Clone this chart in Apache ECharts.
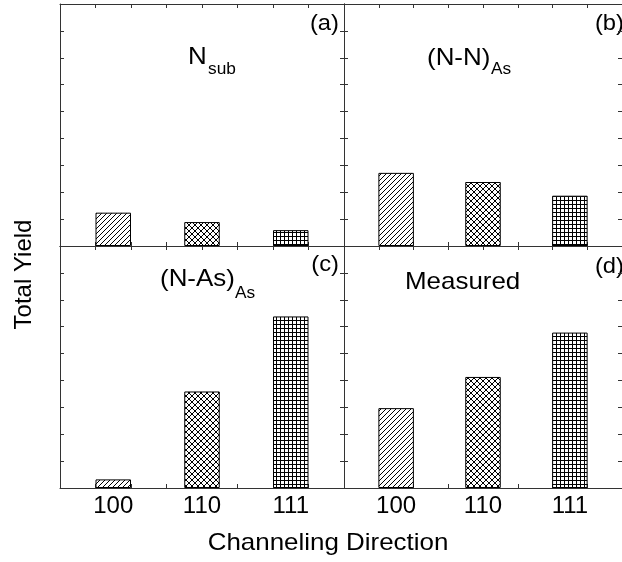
<!DOCTYPE html>
<html>
<head>
<meta charset="utf-8">
<script src="https://cdn.jsdelivr.net/npm/echarts@6/dist/echarts.min.js"></script>
<style>
  html, body { margin: 0; padding: 0; background: #fff; }
  #chart { width: 622px; height: 562px; }
</style>
</head>
<body>
<div id="chart"></div>
<script>
// Channeling directions and where each one sits on the 0–8 channel axis
const directions = ['100', '110', '111'];
const directionSlots = [1.5, 4, 6.5];

// Total yield per direction (arbitrary units)
const yieldNsub = [1.24, 0.89, 0.59];
const yieldNN = [2.72, 2.38, 1.87];
const yieldNAs = [0.32, 3.59, 6.38];
const yieldMeasured = [2.97, 4.13, 5.78];

const FONT = "'Liberation Sans', Arial, Helvetica, sans-serif";
const LINE = '#333';

// Small repeating tiles for the hatch fills: "/", "x" and "+"
function hatchTile(kind) {
  const s = kind === 'grid' ? 4 : (kind === 'cross' ? 6 : 5);
  const c = document.createElement('canvas');
  c.width = s; c.height = s;
  const g = c.getContext('2d');
  g.fillStyle = '#fff';
  g.fillRect(0, 0, s, s);
  g.fillStyle = '#000';
  for (let i = 0; i < s; i++) {
    if (kind === 'diag' || kind === 'cross') g.fillRect(i, s - 1 - i, 1, 1);
    if (kind === 'cross') g.fillRect(i, i, 1, 1);
    if (kind === 'grid') { g.fillRect(i, 0, 1, 1); g.fillRect(0, i, 1, 1); }
  }
  return { image: c, repeat: 'repeat' };
}
const fills = [hatchTile('diag'), hatchTile('cross'), hatchTile('grid')];

const panels = [
  { values: yieldNsub,     left: 60,  top: 4 },
  { values: yieldNN,       left: 344, top: 4 },
  { values: yieldNAs,      left: 60,  top: 246 },
  { values: yieldMeasured, left: 344, top: 246 }
];

const grid = [], xAxis = [], yAxis = [], series = [];
panels.forEach((p, i) => {
  grid.push({ left: p.left, top: p.top, width: 284, height: 242 });
  const bottomRow = i >= 2;
  const tick = { show: true, inside: true, length: 4, lineStyle: { color: LINE, width: 1 } };
  const axLine = { show: true, onZero: false, lineStyle: { color: LINE, width: 1 } };
  ['bottom', 'top'].forEach(pos => {
    xAxis.push({
      gridIndex: i, type: 'value', min: 0, max: 8, interval: 1, position: pos,
      axisLine: axLine, axisTick: tick, splitLine: { show: false },
      axisLabel: (bottomRow && pos === 'bottom') ? {
        show: true,
        customValues: directionSlots,
        formatter: v => directions[directionSlots.indexOf(v)],
        fontSize: 24, fontFamily: FONT, color: '#000', margin: 6
      } : { show: false }
    });
  });
  ['left', 'right'].forEach(pos => {
    yAxis.push({
      gridIndex: i, type: 'value', min: 0, max: 9, interval: 1, position: pos,
      axisLine: axLine, axisTick: tick, splitLine: { show: false },
      axisLabel: { show: false }
    });
  });
  series.push({
    type: 'bar',
    xAxisIndex: 2 * i, yAxisIndex: 2 * i,
    barWidth: 35.5,
    silent: true,
    data: p.values.map((v, k) => ({
      value: [directionSlots[k], v],
      itemStyle: { color: fills[k], borderColor: '#000', borderWidth: 1 }
    }))
  });
});

// Text helpers for the panel annotations
function txt(text, x, y, size, align, extra) {
  return Object.assign({
    type: 'text', x: x, y: y, scaleX: 1.08, silent: true,
    style: {
      text: text, fontSize: size, fontFamily: FONT, fill: '#000',
      textAlign: align || 'left', textVerticalAlign: 'middle'
    }
  }, extra || {});
}

const graphic = [
  txt('(a)', 339, 24.4, 22, 'right'),
  txt('(b)', 624, 24.4, 22, 'right'),
  txt('(c)', 339, 265.4, 22, 'right'),
  txt('(d)', 624, 267.4, 22, 'right'),
  txt('N', 188, 57.4, 24),
  txt('sub', 208, 69.3, 16),
  txt('(N-N)', 427, 58.4, 24),
  txt('As', 491, 69.3, 16),
  txt('(N-As)', 160, 279.4, 24),
  txt('As', 235, 293.3, 16),
  txt('Measured', 405, 282.1, 24),
  txt('Channeling Direction', 328, 543.5, 24, 'center'),
  txt('Total Yield', 24, 274.5, 24, 'center', { rotation: Math.PI / 2, scaleX: 1 })
];

const chart = echarts.init(document.getElementById('chart'), null, { renderer: 'canvas' });
chart.setOption({
  animation: false,
  backgroundColor: '#fff',
  grid: grid,
  xAxis: xAxis,
  yAxis: yAxis,
  series: series,
  graphic: graphic
});
</script>
</body>
</html>
